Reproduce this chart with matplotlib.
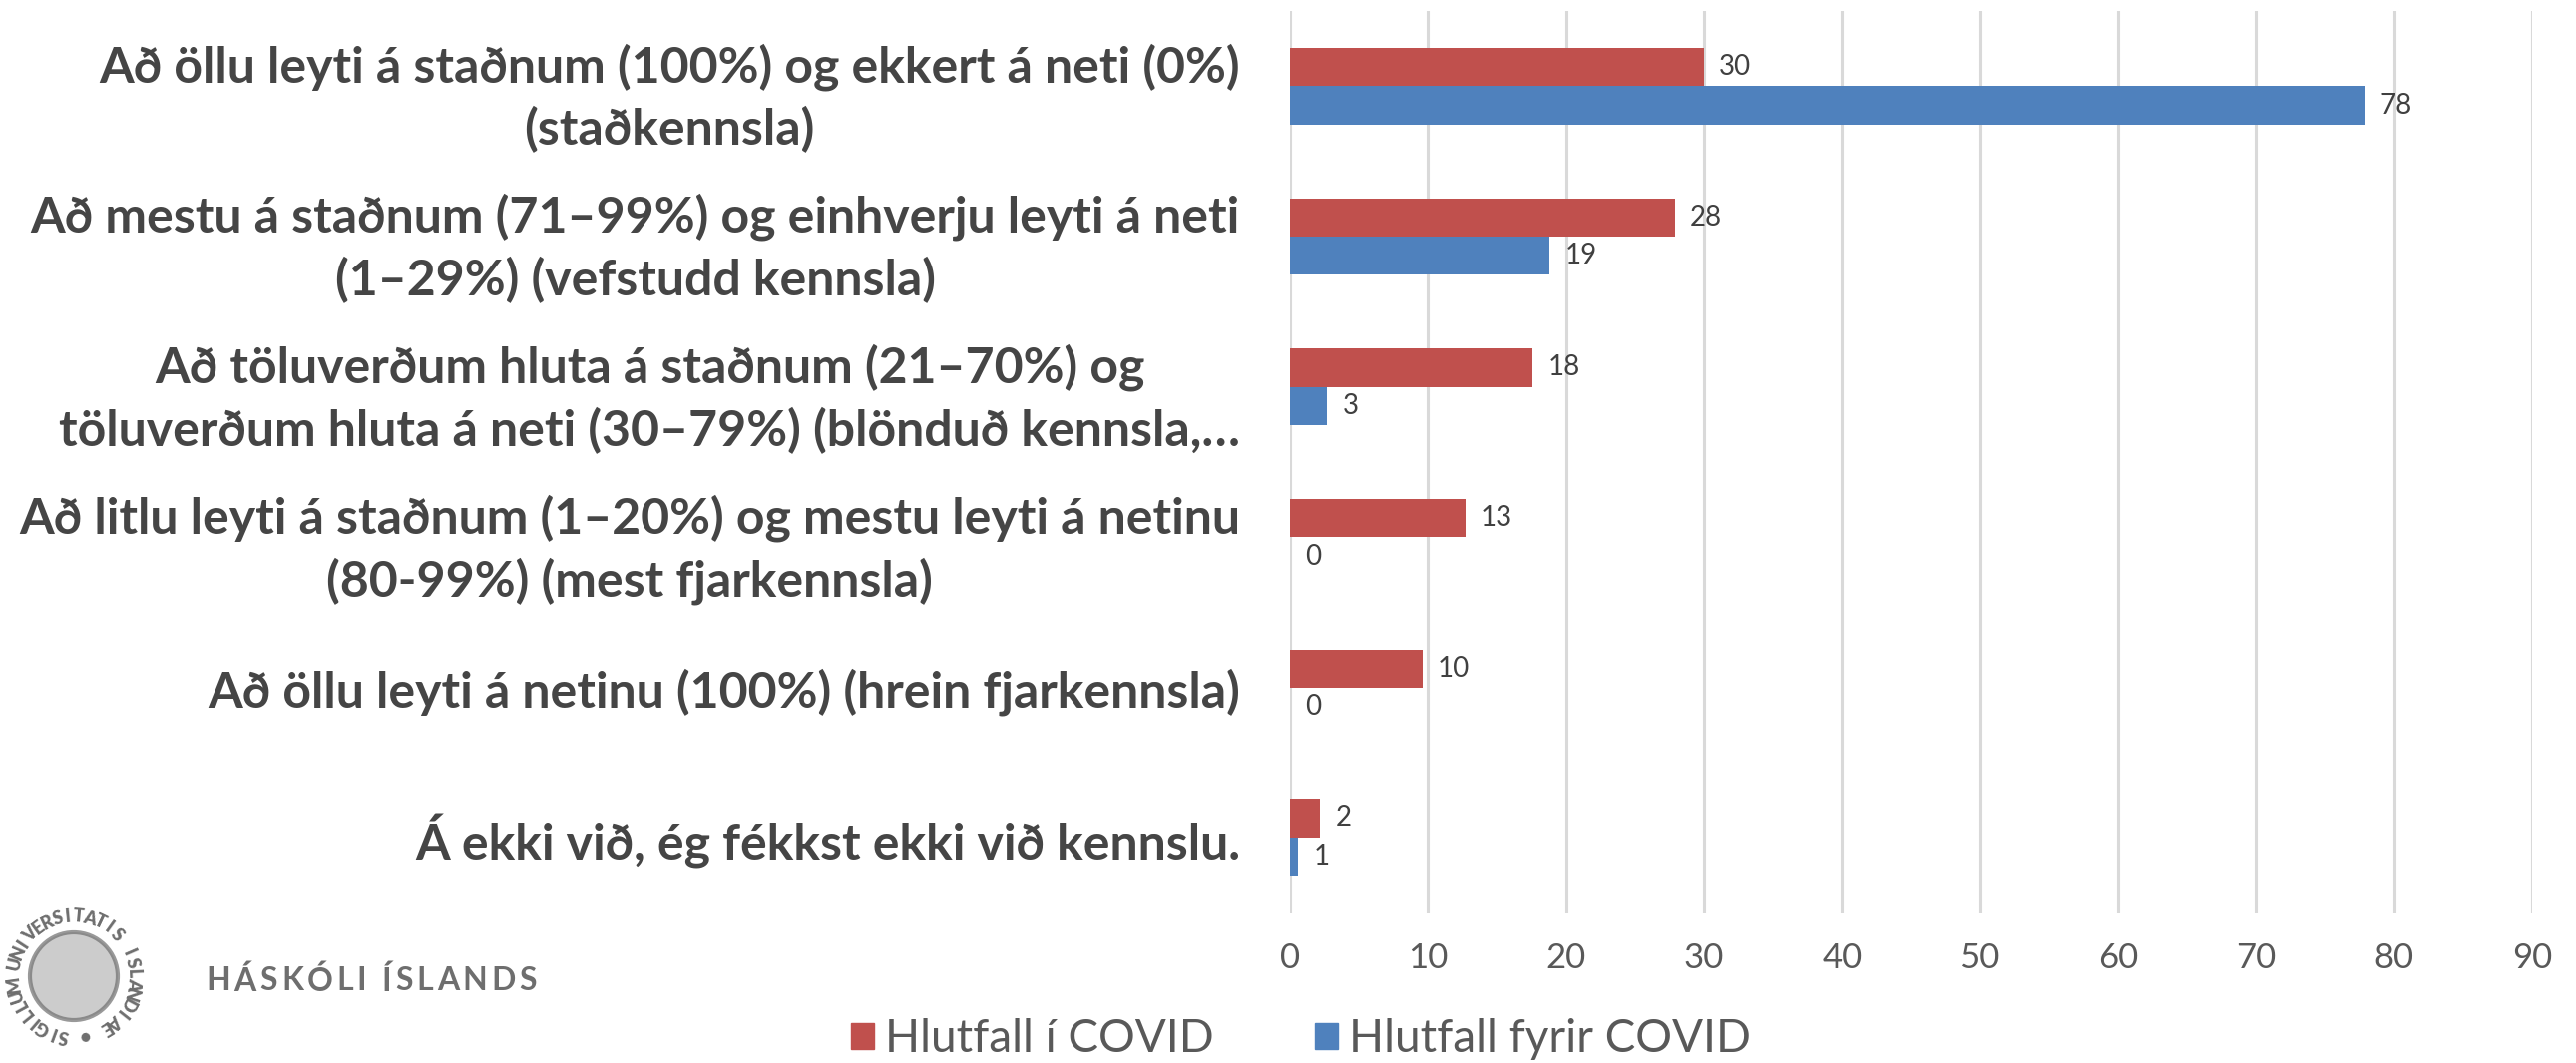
import numpy as np
import matplotlib
matplotlib.use("Agg")
import matplotlib.pyplot as plt
from matplotlib.patches import Patch

# data
categories = [
    "Að öllu leyti á staðnum (100%) og ekkert á neti (0%)\n(staðkennsla)",
    "Að mestu á staðnum (71–99%) og einhverju leyti á neti\n(1–29%) (vefstudd kennsla)",
    "Að töluverðum hluta á staðnum (21–70%) og\ntöluverðum hluta á neti (30–79%) (blönduð kennsla,…",
    "Að litlu leyti á staðnum (1–20%) og mestu leyti á netinu\n(80-99%) (mest fjarkennsla)",
    "Að öllu leyti á netinu (100%) (hrein fjarkennsla)",
    "Á ekki við, ég fékkst ekki við kennslu.",
]
during_covid = [30.0, 27.9, 17.6, 12.7, 9.6, 2.2]
before_covid = [77.9, 18.8, 2.7, 0.0, 0.0, 0.6]
series_names = ["Hlutfall í COVID", "Hlutfall fyrir COVID"]
x_ticks = list(range(0, 100, 10))

RED = "#C0504D"
BLUE = "#4F81BD"
TXT = "#595959"
DARK = "#454545"

W, H = 2582, 1065
plt.rcParams["font.family"] = ["Lato", "DejaVu Sans"]

fig = plt.figure(figsize=(W / 100, H / 100), dpi=100)

# logo layer in pixel coordinates
lax = fig.add_axes([0, 0, 1, 1], zorder=0)
lax.set_xlim(0, W)
lax.set_ylim(H, 0)
lax.axis("off")

ax = fig.add_axes([1293 / W, 1 - 915 / H, (2538 - 1293) / W, (915 - 11) / H], zorder=1)
ax.patch.set_alpha(0)

y = np.arange(len(categories))
h = 0.255
b1 = ax.barh(y - h / 2, during_covid, height=h, color=RED, label=series_names[0], zorder=2)
b2 = ax.barh(y + h / 2, before_covid, height=h, color=BLUE, label=series_names[1], zorder=2)
ax.bar_label(b1, fmt="%.0f", padding=11, fontsize=20, color="#404040")
ax.bar_label(b2, fmt="%.0f", padding=11, fontsize=20, color="#404040")

ax.set_xlim(0, 90)
ax.set_ylim(len(categories) - 0.5, -0.5)
ax.set_xticks(x_ticks)
ax.set_yticks(y)
ax.set_yticklabels(categories)
ax.tick_params(axis="y", length=0, pad=36, labelsize=36, labelcolor=DARK)
for t in ax.get_yticklabels():
    t.set_multialignment("center")
    t.set_linespacing(1.4)
    t.set_fontweight("bold")
ax.tick_params(axis="x", length=0, pad=21, labelsize=25, labelcolor=TXT)
ax.grid(axis="x", color="#D9D9D9", linewidth=2.2, zorder=0)
ax.set_axisbelow(True)
for s in ax.spines.values():
    s.set_visible(False)

handles = [Patch(color=RED), Patch(color=BLUE)]
fig.legend(handles, series_names, loc="center", bbox_to_anchor=(0.505, 0.0225),
           ncol=2, frameon=False, fontsize=33, labelcolor=TXT,
           handlelength=0.5, handleheight=0.5, handletextpad=0.25, columnspacing=2.2)

# university logo: ring text of the seal and the name
GREY = "#6E6E6E"
cx, cy, r = 74, 978, 60
ring = "SIGILLUM UNIVERSITATIS ISLANDIAE • "
step = 360 / len(ring)
for i, ch in enumerate(ring):
    th = np.deg2rad(-100 - i * step)
    lax.text(cx + r * np.cos(th), cy - r * np.sin(th), ch, rotation=np.rad2deg(th) - 90,
             ha="center", va="center", fontsize=13, fontweight="heavy", color=GREY,
             rotation_mode="anchor")
lax.add_patch(plt.Circle((cx, cy), 44, color=GREY, alpha=0.35, lw=0))
lax.add_patch(plt.Circle((cx, cy), 44, fill=False, color=GREY, lw=3, alpha=0.7))

renderer = fig.canvas.get_renderer()
name = "HÁSKÓLI ÍSLANDS"
parts = [lax.text(0, 983, ch, fontsize=23, fontweight="bold", color=GREY,
                  ha="left", va="center") for ch in name]
widths = [p.get_window_extent(renderer).width for p in parts]
space = (538 - 206 - sum(widths)) / (len(name) - 1)
x0 = 206
for p, w in zip(parts, widths):
    p.set_x(x0)
    x0 += w + space

fig.savefig("out.png", dpi=100, facecolor="white")
